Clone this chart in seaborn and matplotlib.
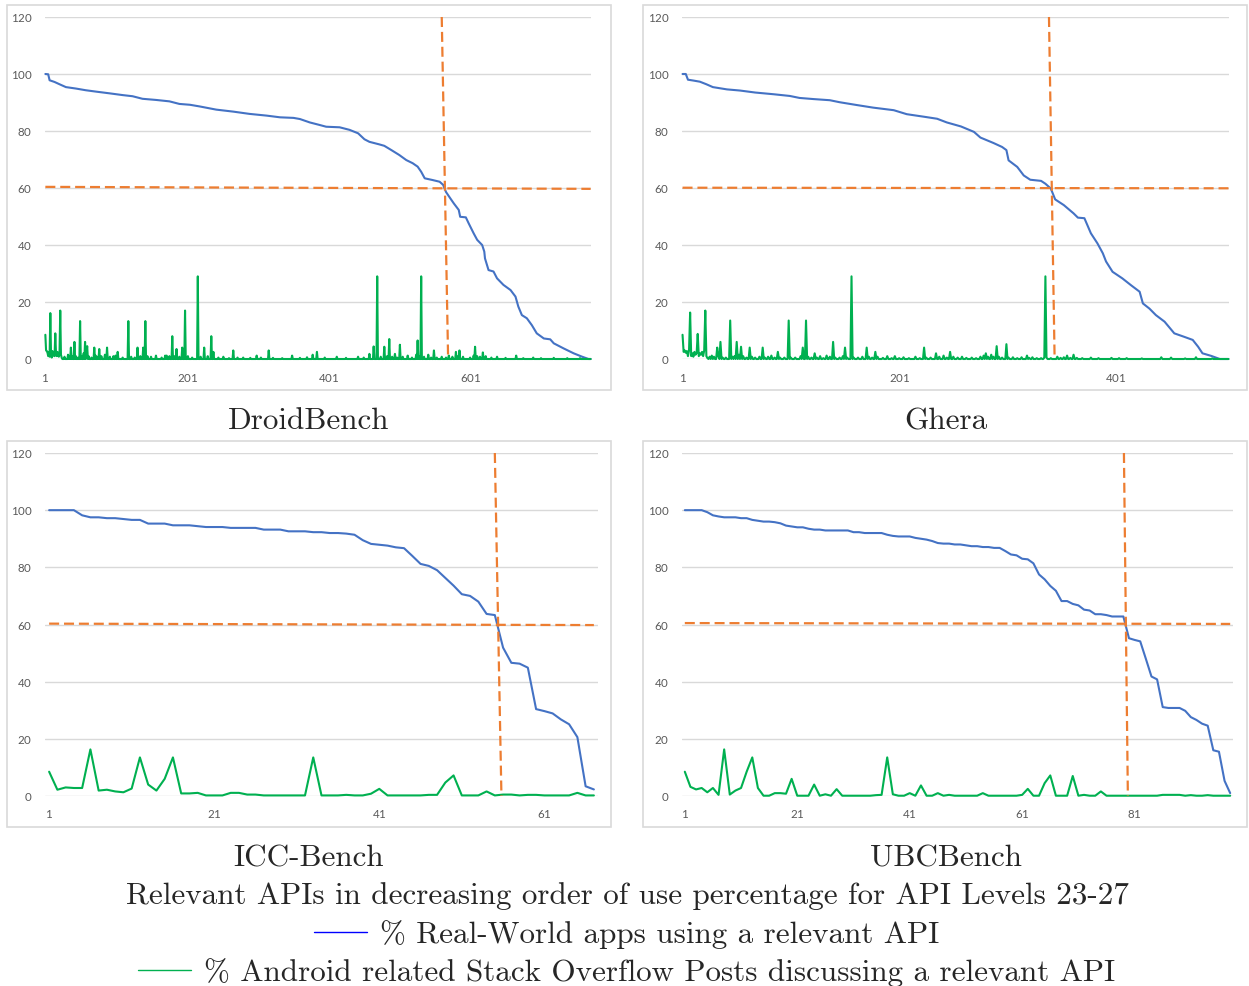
import numpy as np
import matplotlib
matplotlib.use('Agg')
import matplotlib.pyplot as plt
import seaborn as sns
from matplotlib.lines import Line2D
from matplotlib.patches import Rectangle

# ---- data (x = API rank, y = percent) ----
# DroidBench: blue curve sampled along its path, green = posts (sparse, rest ~0)
droid_n = 770
droid_use_idx = [1, 5, 7, 14, 21, 30, 44, 58, 73, 92, 110, 124, 138, 157, 176, 190, 205, 219, 242,
                 266, 289, 313, 332, 351, 360, 374, 388, 397, 416, 430, 442, 451, 458, 472, 479, 489,
                 500, 510, 519, 526, 531, 536, 547, 557, 562, 566, 572, 577, 584, 586, 594, 598, 605,
                 610, 617, 620, 621, 626, 633, 638, 647, 657, 664, 668, 673, 680, 687, 694, 704, 713,
                 718, 732, 746, 758, 767, 770]
droid_use_pct = [100, 99.9, 97.8, 97.2, 96.4, 95.4, 94.9, 94.3, 93.8, 93.2, 92.6, 92.2, 91.3, 90.9,
                 90.4, 89.5, 89.2, 88.6, 87.5, 86.8, 86.0, 85.4, 84.8, 84.6, 84.2, 83.0, 82.1, 81.5,
                 81.3, 80.4, 79.2, 77.1, 76.2, 75.3, 74.8, 73.3, 71.6, 69.8, 68.7, 67.5, 65.7, 63.4,
                 62.8, 62.2, 61.1, 58.6, 56.4, 54.6, 52.3, 49.9, 49.7, 47.6, 44.1, 41.8, 40.0, 37.7,
                 35.3, 31.2, 30.7, 28.3, 26.0, 24.2, 21.9, 18.4, 15.4, 14.3, 11.9, 9.0, 7.2, 6.9,
                 5.5, 3.7, 2.0, 0.8, 0.0, 0.0]
droid_so_idx = [1, 2, 3, 4, 5, 6, 7, 8, 9, 10, 11, 12, 13, 14, 15, 16, 17, 18, 19, 20, 21, 22, 23, 24,
                28, 33, 35, 37, 39, 42, 44, 47, 50, 52, 55, 57, 59, 60, 62, 66, 70, 72, 75, 77, 80,
                85, 88, 92, 97, 100, 103, 110, 118, 122, 127, 131, 135, 139, 142, 145, 150, 157,
                165, 170, 172, 176, 180, 183, 186, 190, 194, 198, 202, 208, 216, 220, 225, 230, 235,
                238, 245, 252, 260, 266, 272, 280, 290, 299, 305, 316, 322, 335, 349, 360, 370, 378,
                384, 395, 412, 425, 442, 450, 458, 464, 469, 474, 479, 483, 486, 490, 494, 497, 501,
                505, 512, 518, 524, 526, 528, 531, 535, 541, 545, 549, 553, 560, 566, 570, 575, 580,
                583, 585, 590, 600, 605, 607, 610, 614, 618, 622, 630, 638, 650, 665, 675, 689, 700,
                718, 737, 755]
droid_so_pct = [8.5, 3.0, 2.8, 2.2, 1.0, 2.5, 0.8, 16.1, 1.5, 0.5, 2.8, 1.2, 2.2, 1.0, 9.0, 2.0, 1.0,
                2.5, 1.5, 0.8, 2.5, 17.0, 1.5, 0.5, 0.8, 1.5, 0.8, 4.0, 1.0, 6.0, 1.0, 0.5, 13.3, 1.0,
                2.0, 6.0, 2.0, 4.5, 1.0, 0.5, 4.0, 1.2, 0.8, 3.5, 1.0, 1.5, 4.0, 0.8, 1.0, 1.2, 2.5,
                0.5, 13.3, 0.8, 0.5, 4.0, 1.0, 4.0, 13.3, 1.0, 0.8, 1.2, 0.5, 1.2, 1.2, 1.0, 8.0, 1.0,
                3.5, 0.8, 4.0, 17.0, 1.0, 0.5, 29.0, 0.8, 4.0, 1.0, 8.0, 2.5, 0.5, 0.8, 0.3, 3.0, 0.5,
                0.5, 0.4, 1.2, 0.5, 3.0, 0.4, 0.3, 1.2, 0.4, 0.6, 1.5, 2.5, 0.5, 0.8, 0.4, 0.8, 0.5,
                1.8, 4.4, 29.0, 0.8, 4.3, 1.0, 7.0, 0.8, 1.8, 0.5, 5.0, 0.8, 1.2, 0.5, 1.5, 6.5, 1.0,
                29.0, 0.8, 1.5, 0.5, 3.0, 0.5, 0.8, 0.5, 1.2, 0.8, 2.5, 1.0, 3.0, 0.8, 0.5, 1.2, 4.3,
                1.0, 0.8, 2.3, 1.0, 0.5, 0.8, 0.4, 1.2, 0.3, 0.5, 0.3, 0.4, 0.3, 0.3]
droid_cut = [560, 569]          # dashed vertical: x at top (120) and at bottom (0)
droid_level = [60.4, 59.7]      # dashed horizontal: y at x=1 and at x=n

# Ghera
ghera_n = 505
ghera_use_idx = [1, 4, 6, 11, 17, 23, 29, 42, 54, 68, 85, 100, 109, 122, 137, 146, 162, 177, 196,
                 208, 224, 236, 245, 258, 270, 276, 288, 296, 300, 302, 310, 316, 322, 332, 336, 341,
                 345, 353, 362, 366, 372, 378, 384, 389, 392, 398, 407, 415, 423, 426, 432, 438, 446,
                 455, 464, 472, 477, 481, 489, 497, 505]
ghera_use_pct = [100, 100, 98.0, 97.7, 97.3, 96.4, 95.4, 94.6, 94.2, 93.5, 92.9, 92.3, 91.6, 91.2,
                 90.8, 90.1, 89.1, 88.2, 87.3, 85.9, 85.0, 84.3, 83.0, 81.6, 79.7, 77.7, 75.8, 74.4,
                 73.3, 69.7, 67.4, 64.4, 62.9, 62.5, 61.5, 59.8, 56.0, 54.0, 51.1, 49.6, 49.4, 44.1,
                 40.6, 37.1, 34.2, 30.6, 28.3, 25.9, 23.6, 19.5, 17.7, 15.4, 13.1, 9.0, 7.8, 6.7, 4.3,
                 2.0, 1.1, 0.0, 0.0]
ghera_so_idx = [1, 2, 3, 4, 5, 6, 7, 8, 9, 10, 11, 12, 13, 14, 15, 16, 17, 18, 19, 20, 21, 22, 23, 24,
                26, 28, 30, 33, 34, 36, 38, 41, 45, 47, 49, 51, 53, 55, 57, 60, 63, 65, 68, 72, 75, 77,
                80, 83, 86, 89, 91, 95, 99, 101, 105, 110, 112, 115, 117, 120, 123, 125, 128, 131,
                134, 137, 140, 142, 146, 149, 151, 153, 157, 159, 163, 167, 171, 173, 176, 179, 181,
                186, 190, 194, 197, 201, 205, 210, 216, 220, 224, 226, 230, 235, 238, 242, 245, 248,
                251, 255, 259, 263, 268, 272, 276, 279, 281, 283, 286, 288, 291, 293, 296, 300, 302,
                306, 310, 314, 319, 321, 324, 328, 332, 335, 336, 337, 341, 347, 350, 353, 356, 359,
                362, 365, 370, 378, 385, 397, 404, 411, 425, 443, 452, 465, 475, 490]
ghera_so_pct = [8.5, 2.5, 3.0, 2.2, 2.8, 1.0, 3.0, 16.3, 1.0, 2.0, 0.8, 2.5, 1.5, 2.0, 8.8, 1.0, 2.0,
                1.5, 2.5, 1.0, 3.0, 17.0, 1.0, 0.3, 0.8, 1.2, 0.8, 4.0, 1.0, 6.0, 0.5, 0.5, 13.5, 0.8,
                1.0, 6.0, 1.5, 4.3, 1.0, 0.5, 4.0, 0.8, 0.5, 0.8, 4.0, 0.5, 0.8, 1.2, 0.5, 2.5, 0.5,
                0.5, 13.5, 0.5, 0.5, 1.0, 4.0, 13.5, 0.8, 0.5, 2.0, 0.5, 1.0, 0.3, 1.2, 0.8, 6.0, 0.5,
                0.5, 1.0, 4.0, 0.5, 29.0, 0.5, 0.5, 0.8, 4.0, 0.8, 0.5, 2.5, 0.8, 0.4, 1.0, 0.3, 1.0,
                0.3, 0.6, 0.3, 0.8, 0.3, 4.0, 0.5, 0.5, 2.0, 0.8, 1.2, 0.5, 2.5, 0.8, 0.5, 0.8, 0.4,
                0.5, 0.3, 0.8, 1.2, 2.0, 0.8, 1.5, 0.8, 4.5, 0.8, 0.5, 5.2, 0.5, 0.6, 0.3, 0.6, 1.2,
                0.4, 0.6, 0.3, 0.3, 0.5, 29.0, 0.5, 0.3, 0.8, 0.4, 0.6, 1.2, 0.4, 1.5, 0.4, 0.3, 0.5,
                0.3, 0.4, 0.3, 0.3, 0.2, 0.6, 0.5, 0.2, 0.6, 0.2]
ghera_cut = [339.3, 344.5]
ghera_level = [60.1, 59.9]

# ICC-Bench: every point
icc_use = [100, 100, 100, 100, 98.2, 97.5, 97.5, 97.2, 97.2, 96.9,
           96.6, 96.6, 95.3, 95.3, 95.3, 94.7, 94.7, 94.7, 94.4, 94.1,
           94.1, 94.1, 93.8, 93.8, 93.8, 93.8, 93.2, 93.2, 93.2, 92.6,
           92.6, 92.6, 92.3, 92.3, 92.0, 92.0, 91.8, 91.4, 89.5, 88.2,
           87.9, 87.6, 87.0, 86.7, 84.0, 81.2, 80.5, 79.0, 76.3, 73.6,
           70.6, 70.0, 68.0, 63.7, 63.3, 51.9, 46.6, 46.3, 44.9, 30.4,
           29.7, 28.9, 26.8, 25.1, 20.6, 3.4, 2.3]
icc_so = [8.5, 2.2, 3.0, 2.8, 2.8, 16.3, 1.9, 2.2, 1.6, 1.3,
          2.6, 13.5, 4.0, 1.9, 6.0, 13.5, 0.9, 0.9, 1.1, 0.2,
          0.2, 0.2, 1.1, 1.1, 0.5, 0.5, 0.2, 0.2, 0.2, 0.2,
          0.2, 0.2, 13.5, 0.2, 0.2, 0.2, 0.4, 0.2, 0.2, 0.8,
          2.5, 0.2, 0.2, 0.2, 0.2, 0.2, 0.4, 0.4, 4.7, 7.2,
          0.2, 0.2, 0.2, 1.6, 0.2, 0.5, 0.5, 0.2, 0.4, 0.4,
          0.2, 0.2, 0.2, 0.2, 1.1, 0.2, 0.2]
icc_cut = [55.0, 55.8]
icc_level = [60.3, 59.8]

# UBCBench: every point
ubc_use = [100, 100, 100, 100, 99.3, 98.2, 97.8, 97.5, 97.5, 97.5,
           97.2, 97.2, 96.6, 96.3, 96.0, 96.0, 95.8, 95.4, 94.6, 94.3,
           94.0, 94.0, 93.5, 93.2, 93.2, 92.9, 92.9, 92.9, 92.9, 92.9,
           92.3, 92.3, 92.0, 92.0, 92.0, 92.0, 91.4, 91.0, 90.8, 90.8,
           90.8, 90.3, 90.0, 89.7, 89.2, 88.5, 88.3, 88.3, 88.0, 88.0,
           87.7, 87.4, 87.4, 87.1, 87.1, 86.8, 86.8, 85.7, 84.5, 84.2,
           83.0, 82.8, 81.4, 77.5, 75.8, 73.5, 71.8, 68.2, 68.2, 67.2,
           66.7, 65.2, 64.9, 63.6, 63.6, 63.3, 62.8, 62.8, 62.8, 55.2,
           54.6, 54.1, 48.0, 41.8, 40.8, 31.1, 30.8, 30.8, 30.8, 29.8,
           27.6, 26.6, 25.3, 24.6, 16.0, 15.5, 5.3, 1.0]
ubc_so = [8.5, 3.2, 2.3, 2.8, 1.3, 2.8, 0.4, 16.3, 0.5, 1.9,
          2.8, 8.5, 13.5, 2.8, 0.1, 0.1, 1.0, 1.0, 0.8, 6.0,
          0.1, 0.1, 0.1, 4.0, 0.1, 0.6, 0.1, 2.4, 0.1, 0.1,
          0.1, 0.1, 0.1, 0.1, 0.3, 0.4, 13.5, 0.6, 0.1, 0.1,
          1.0, 0.1, 3.7, 0.1, 0.1, 1.0, 0.1, 0.4, 0.1, 0.1,
          0.1, 0.1, 0.1, 1.0, 0.1, 0.1, 0.1, 0.1, 0.1, 0.1,
          0.4, 2.5, 0.1, 0.1, 4.5, 7.2, 0.1, 0.1, 0.1, 7.0,
          0.1, 0.4, 0.1, 0.1, 1.6, 0.1, 0.1, 0.1, 0.1, 0.1,
          0.1, 0.1, 0.1, 0.1, 0.1, 0.4, 0.4, 0.4, 0.4, 0.1,
          0.3, 0.1, 0.1, 0.3, 0.1, 0.1, 0.1, 0.1]
ubc_cut = [79.1, 79.8]
ubc_level = [60.5, 60.2]

panel_names = ['DroidBench', 'Ghera', 'ICC-Bench', 'UBCBench']
title = 'Relevant APIs in decreasing order of use percentage for API Levels 23-27'
legend_labels = ['% Real-World apps using a relevant API',
                 '% Android related Stack Overflow Posts discussing a relevant API']

# ---- style ----
W, H = 1249, 986
BLUE = '#4472C4'
GREEN = '#00B050'
ORANGE = '#ED7D31'
GRID = '#D9D9D9'
TICK = '#595959'
SERIF = ['cmr10', 'DejaVu Serif']
CAP = 22.4

sns.set_theme(style='white')
plt.rcParams['font.family'] = ['Lato', 'DejaVu Sans']
plt.rcParams['axes.formatter.use_mathtext'] = True

fig = plt.figure(figsize=(W / 100, H / 100), dpi=100)


def sparse_series(n, idx, vals):
    # posts share: zero except where a value was read
    y = np.zeros(n)
    y[np.array(idx) - 1] = vals
    return np.arange(1, n + 1), y


def panel(rect, box, n, use_x, use_y, so_x, so_y, cut, level, xticks):
    l, t, r, b = box
    fig.patches.append(Rectangle((l / W, 1 - b / H), (r - l) / W, (b - t) / H,
                                 transform=fig.transFigure, fill=False,
                                 edgecolor=GRID, lw=1.2))
    l, t, r, b = rect
    ax = fig.add_axes([l / W, 1 - b / H, (r - l) / W, (b - t) / H])
    ax.patch.set_alpha(0)
    sns.lineplot(x=use_x, y=use_y, ax=ax, color=BLUE, lw=1.5, estimator=None, clip_on=False)
    sns.lineplot(x=so_x, y=so_y, ax=ax, color=GREEN, lw=1.5, estimator=None, clip_on=False)
    dash = (0, (4.5, 2.2))
    ax.plot([1, n], level, color=ORANGE, lw=1.6, ls=dash, clip_on=False)
    ax.plot(cut, [120, 0], color=ORANGE, lw=1.6, ls=dash, clip_on=False)
    ax.set_xlim(0.5, n + 0.5)
    ax.set_ylim(0, 120)
    ax.set_yticks(range(0, 121, 20))
    ax.set_xticks(xticks)
    ax.set_axisbelow(True)
    ax.grid(axis='y', color=GRID, lw=1)
    ax.grid(axis='x', visible=False)
    for s in ax.spines.values():
        s.set_visible(False)
    ax.tick_params(axis='y', length=0, labelsize=8.3, colors=TICK, pad=9)
    ax.tick_params(axis='x', length=0, labelsize=8.3, colors=TICK, pad=9)
    ax.set_xlabel('')
    ax.set_ylabel('')
    return ax


dx, dy = sparse_series(droid_n, droid_so_idx, droid_so_pct)
panel((45, 17, 591, 359), (7, 5, 611, 390), droid_n, droid_use_idx, droid_use_pct,
      dx, dy, droid_cut, droid_level, [1, 201, 401, 601])

gx, gy = sparse_series(ghera_n, ghera_so_idx, ghera_so_pct)
panel((682, 17, 1229, 359), (643, 5, 1247, 390), ghera_n, ghera_use_idx, ghera_use_pct,
      gx, gy, ghera_cut, ghera_level, [1, 201, 401])

icc_x = np.arange(1, len(icc_use) + 1)
panel((45, 453, 598, 796), (7, 441, 611, 827), len(icc_use), icc_x, icc_use,
      icc_x, icc_so, icc_cut, icc_level, [1, 21, 41, 61])

ubc_x = np.arange(1, len(ubc_use) + 1)
panel((682, 453, 1233, 796), (643, 441, 1247, 827), len(ubc_use), ubc_x, ubc_use,
      ubc_x, ubc_so, ubc_cut, ubc_level, [1, 21, 41, 61, 81])

# captions
for name, (cx, cy) in zip(panel_names, [(309, 421.5), (946, 421.5), (309, 858.5), (946, 858.5)]):
    fig.text(cx / W, 1 - cy / H, name, ha='center', va='center', fontsize=CAP, family=SERIF)
fig.text(627 / W, 1 - 896.5 / H, title, ha='center', va='center', fontsize=CAP, family=SERIF)

# legend rows: centred text, short line drawn to its left
rows = []
for lab, cy in zip(legend_labels, [934.5, 972.5]):
    rows.append((fig.text(660 / W, 1 - cy / H, lab, ha='center', va='center',
                          fontsize=CAP, family=SERIF), cy))
fig.canvas.draw()
for (txt, cy), col in zip(rows, ['#0000FF', GREEN]):
    bb = txt.get_window_extent()
    x1 = bb.x0 - 13
    x0 = x1 - 53
    fig.lines.append(Line2D([x0 / W, x1 / W], [1 - (cy - 2.5) / H, 1 - (cy - 2.5) / H],
                            transform=fig.transFigure, color=col, lw=1.0))

fig.savefig('out.png', dpi=100)
